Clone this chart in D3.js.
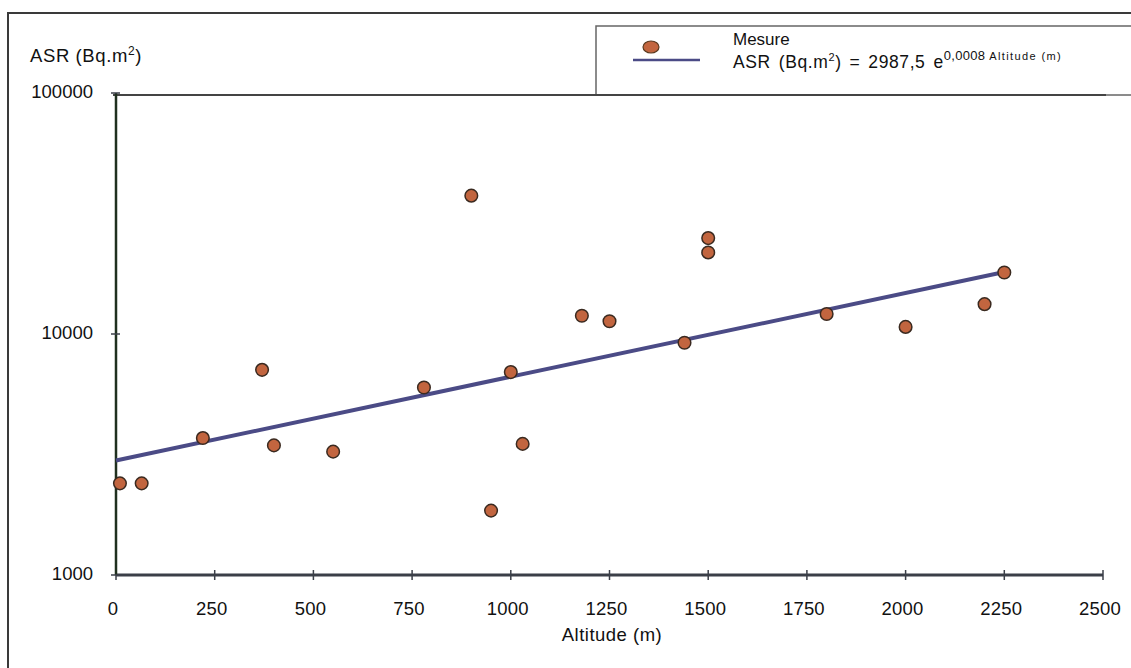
<!DOCTYPE html>
<html>
<head>
<meta charset="utf-8">
<script src="https://cdn.jsdelivr.net/npm/d3@7"></script>
<style>
  body { margin: 0; background: #fff; }
  text { font-family: "Liberation Sans", Arial, sans-serif; fill: #111; }
</style>
</head>
<body>
<svg id="chart" width="1131" height="668"></svg>
<script>
// measured altitudes (m) and ASR values (Bq.m-2)
const altitudes = [10, 65, 220, 370, 400, 550, 780, 900, 950, 1000, 1030, 1180, 1250, 1440, 1500, 1500, 1800, 2000, 2200, 2250];
const asrValues = [2400, 2400, 3700, 7100, 3450, 3250, 6000, 37500, 1850, 6950, 3500, 11900, 11300, 9200, 25000, 21800, 12100, 10700, 13300, 18000];

// exponential fit shown in legend: ASR = a * exp(b * altitude)
const fitA = 2987.5;
const fitB = 0.0008;
const fitRange = [0, 2250];

const xTicks = [0, 250, 500, 750, 1000, 1250, 1500, 1750, 2000, 2250, 2500];
const yTicks = [1000, 10000, 100000];

function draw_chart() {
    const svg = d3.select("#chart");

    const x = d3.scaleLinear().domain([0, 2500]).range([116, 1103]);
    const y = d3.scaleLog().domain([1000, 100000]).range([575, 93]);

    // outer frame (cut off at right / bottom like the scan)
    svg.append("path")
        .attr("d", "M8,668 V13 H1131")
        .attr("fill", "none")
        .attr("stroke", "#3a3a3a")
        .attr("stroke-width", 2);

    // legend box
    svg.append("rect")
        .attr("x", 596).attr("y", 26)
        .attr("width", 560).attr("height", 69)
        .attr("fill", "#fff")
        .attr("stroke", "#666")
        .attr("stroke-width", 1.5);

    // plot area top border
    svg.append("line")
        .attr("x1", x(0) - 3).attr("x2", x(2500) + 3)
        .attr("y1", 95).attr("y2", 95)
        .attr("stroke", "#444")
        .attr("stroke-width", 2);

    // x axis
    const xAxis = svg.append("g");
    xAxis.append("line")
        .attr("x1", x(0)).attr("x2", x(2500))
        .attr("y1", y(1000)).attr("y2", y(1000))
        .attr("stroke", "#3b3f48").attr("stroke-width", 3);
    xAxis.selectAll(".xtick")
        .data(xTicks)
        .join("line")
        .attr("class", "xtick")
        .attr("x1", d => x(d)).attr("x2", d => x(d))
        .attr("y1", y(1000) - 5).attr("y2", y(1000) + 5)
        .attr("stroke", "#3b3f48").attr("stroke-width", 1.5);
    xAxis.selectAll(".xlab")
        .data(xTicks)
        .join("text")
        .attr("class", "xlab")
        .attr("x", d => x(d) - 3)
        .attr("y", 615)
        .attr("text-anchor", "middle")
        .attr("font-size", 18.5)
        .attr("letter-spacing", 0.2)
        .text(d => d);
    svg.append("text")
        .attr("x", 612).attr("y", 641)
        .attr("text-anchor", "middle")
        .attr("font-size", 18.5)
        .attr("letter-spacing", 0.5)
        .text("Altitude (m)");

    // y axis
    const yAxis = svg.append("g");
    yAxis.append("line")
        .attr("x1", x(0)).attr("x2", x(0))
        .attr("y1", y(100000)).attr("y2", y(1000))
        .attr("stroke", "#20301f").attr("stroke-width", 2.5);
    yAxis.selectAll(".ytick")
        .data(yTicks)
        .join("line")
        .attr("class", "ytick")
        .attr("x1", x(0) - 5).attr("x2", x(0) + 4)
        .attr("y1", d => y(d)).attr("y2", d => y(d))
        .attr("stroke", "#3b3f48").attr("stroke-width", 1.5);
    yAxis.selectAll(".ylab")
        .data(yTicks)
        .join("text")
        .attr("class", "ylab")
        .attr("x", 93)
        .attr("y", d => y(d) + 5)
        .attr("text-anchor", "end")
        .attr("font-size", 18.5)
        .text(d => d);

    const ylabel = svg.append("text")
        .attr("x", 30).attr("y", 62)
        .attr("font-size", 18.5)
        .attr("letter-spacing", 0.6);
    ylabel.append("tspan").text("ASR (Bq.m");
    ylabel.append("tspan").attr("dy", -7).attr("font-size", 12).text("2");
    ylabel.append("tspan").attr("dy", 7).text(")");

    // trend line (straight on a log scale)
    svg.append("line")
        .attr("x1", x(fitRange[0])).attr("y1", y(fitA * Math.exp(fitB * fitRange[0])))
        .attr("x2", x(fitRange[1])).attr("y2", y(fitA * Math.exp(fitB * fitRange[1])))
        .attr("stroke", "#4b4b86")
        .attr("stroke-width", 4);

    // measurements
    svg.append("g")
        .selectAll("circle")
        .data(altitudes.map((a, i) => ({alt: a, asr: asrValues[i]})))
        .join("circle")
        .attr("cx", d => x(d.alt))
        .attr("cy", d => y(d.asr))
        .attr("r", 6.3)
        .attr("fill", "#c2653f")
        .attr("stroke", "#3a2a20")
        .attr("stroke-width", 1.5);

    // legend
    svg.append("ellipse")
        .attr("cx", 651).attr("cy", 47)
        .attr("rx", 8).attr("ry", 6)
        .attr("fill", "#c2653f")
        .attr("stroke", "#5a3a20")
        .attr("stroke-width", 1.2);
    svg.append("line")
        .attr("x1", 633).attr("x2", 700)
        .attr("y1", 60).attr("y2", 60)
        .attr("stroke", "#4b4b86")
        .attr("stroke-width", 2.5);
    svg.append("text")
        .attr("x", 733).attr("y", 45)
        .attr("font-size", 17)
        .text("Mesure");
    const eq = svg.append("text")
        .attr("x", 733).attr("y", 68)
        .attr("font-size", 17.5)
        .attr("letter-spacing", 0.6)
        .attr("word-spacing", 2.5);
    eq.append("tspan").text("ASR (Bq.m");
    eq.append("tspan").attr("dy", -7).attr("font-size", 11).text("2");
    eq.append("tspan").attr("dy", 7).text(") = 2987,5 e");
    eq.append("tspan").attr("dy", -8).attr("font-size", 13).attr("letter-spacing", 0.3).text("0,0008");
    eq.append("tspan").attr("font-size", 11).attr("letter-spacing", 1.4).attr("word-spacing", 0).text(" Altitude (m)");
}

draw_chart();
</script>
</body>
</html>
